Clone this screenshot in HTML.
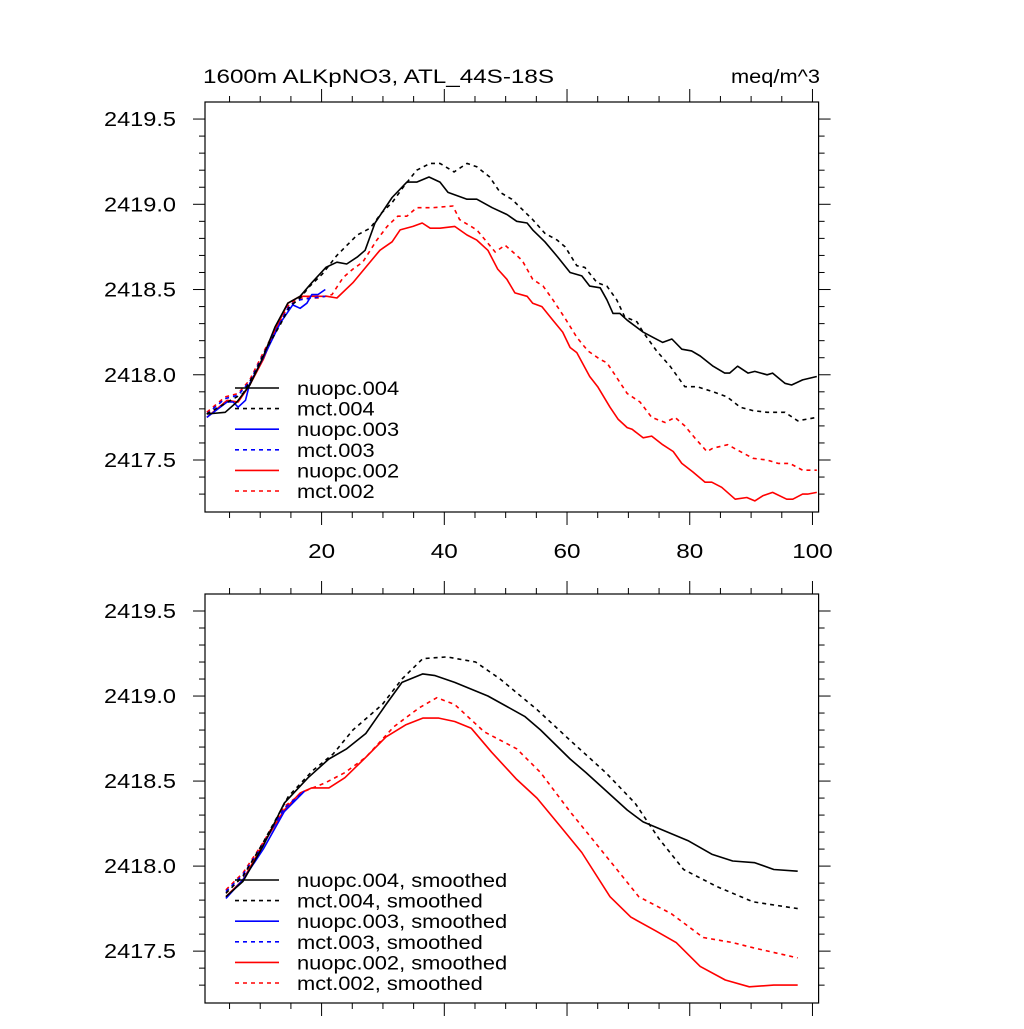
<!DOCTYPE html>
<html><head><meta charset="utf-8"><style>
body{margin:0;background:#fff}
svg text{font-family:"Liberation Sans",sans-serif;fill:#000}
</style></head><body>
<svg id="chart" width="1024" height="1024" viewBox="0 0 1024 1024" xmlns="http://www.w3.org/2000/svg">
<rect width="1024" height="1024" fill="#fff"/>
<text id="ttl" x="203" y="83" font-size="19" textLength="351" lengthAdjust="spacingAndGlyphs">1600m ALKpNO3, ATL_44S-18S</text>
<text x="731" y="83" font-size="19" textLength="89" lengthAdjust="spacingAndGlyphs">meq/m^3</text>
</svg>
<script>
// ---------- data ----------
const xTickValues=[20,40,60,80,100];
const yTickValues=[2417.5,2418.0,2418.5,2419.0,2419.5];
const yTickLabels=["2417.5","2418.0","2418.5","2419.0","2419.5"];
const topLegendLabels=["nuopc.004","mct.004","nuopc.003","mct.003","nuopc.002","mct.002"];
const botLegendLabels=["nuopc.004, smoothed","mct.004, smoothed","nuopc.003, smoothed","mct.003, smoothed","nuopc.002, smoothed","mct.002, smoothed"];

const n004x=[1.3,4.3,6.2,8.3,10.3,12.4,14.5,16.5,18.4,20.7,22.5,24.1,25.8,27.1,28.7,31.5,33.9,35.5,37.5,39.3,40.6,43.7,45.3,47.8,50.2,51.8,53.5,54.4,56.4,58.5,60.5,62.4,63.7,65.4,66.5,67.5,68.6,69.8,72.4,74.0,75.6,77.1,78.7,80.3,81.7,83.8,85.7,86.5,87.8,89.5,90.6,92.6,93.5,95.5,96.6,98.4,100.7];
const n004y=[2417.77,2417.78,2417.84,2417.94,2418.09,2418.28,2418.42,2418.46,2418.54,2418.63,2418.66,2418.65,2418.69,2418.73,2418.89,2419.04,2419.13,2419.13,2419.16,2419.13,2419.07,2419.03,2419.03,2418.98,2418.94,2418.90,2418.89,2418.85,2418.78,2418.69,2418.60,2418.58,2418.52,2418.51,2418.44,2418.36,2418.36,2418.32,2418.25,2418.22,2418.19,2418.21,2418.15,2418.14,2418.11,2418.05,2418.01,2418.01,2418.05,2418.01,2418.02,2418.00,2418.01,2417.95,2417.94,2417.97,2417.99];
const m004x=[1.3,4.7,7.2,9.1,11.1,13.2,14.8,16.5,18.1,20.1,22.5,25.8,27.9,29.8,31.5,33.3,35.5,37.7,39.3,41.6,43.7,45.3,47.4,49.1,51.0,54.4,56.4,58.4,59.7,61.6,62.9,64.9,66.5,68.1,69.4,71.4,72.4,74.6,76.8,79.2,81.2,83.8,86.1,88.2,90.3,92.6,95.5,97.6,100.7];
const m004y=[2417.77,2417.84,2417.89,2418.01,2418.16,2418.29,2418.40,2418.45,2418.52,2418.59,2418.70,2418.82,2418.86,2418.95,2419.01,2419.10,2419.20,2419.24,2419.24,2419.19,2419.24,2419.22,2419.16,2419.07,2419.03,2418.91,2418.83,2418.79,2418.75,2418.64,2418.63,2418.54,2418.52,2418.44,2418.34,2418.31,2418.25,2418.14,2418.05,2417.93,2417.93,2417.90,2417.87,2417.81,2417.79,2417.78,2417.78,2417.73,2417.75];
const n003x=[1.3,4.6,5.6,6.4,7.6,8.3,10.5,13.2,15.3,16.5,17.6,18.4,19.4,20.6];
const n003y=[2417.75,2417.84,2417.84,2417.81,2417.85,2417.95,2418.10,2418.30,2418.41,2418.39,2418.42,2418.47,2418.47,2418.50];
const m003x=[1.3,4.3,6.4,8.3,10.5,12.7,14.8,16.5,18.4,20.6];
const m003y=[2417.77,2417.86,2417.88,2417.96,2418.12,2418.27,2418.41,2418.44,2418.45,2418.46];
const n002x=[1.3,4.6,6.4,8.3,10.5,12.4,14.5,16.5,18.6,20.9,22.5,25.1,27.4,29.5,31.5,32.8,34.9,36.4,37.7,39.3,41.7,43.7,45.3,47.1,48.7,50.2,51.5,53.5,54.4,55.9,57.7,59.3,60.5,61.6,63.7,65.0,67.0,68.3,69.8,70.6,72.4,73.8,75.6,77.3,78.7,80.5,82.5,83.6,85.2,87.4,89.3,90.6,91.9,93.5,95.8,96.8,98.4,99.2,100.7];
const n002y=[2417.75,2417.85,2417.84,2417.94,2418.09,2418.26,2418.42,2418.46,2418.46,2418.46,2418.45,2418.54,2418.64,2418.73,2418.78,2418.85,2418.87,2418.89,2418.86,2418.86,2418.87,2418.82,2418.79,2418.73,2418.62,2418.56,2418.48,2418.46,2418.42,2418.40,2418.32,2418.25,2418.16,2418.13,2417.99,2417.93,2417.81,2417.74,2417.69,2417.68,2417.63,2417.64,2417.59,2417.55,2417.48,2417.43,2417.37,2417.37,2417.34,2417.27,2417.28,2417.26,2417.29,2417.31,2417.27,2417.27,2417.30,2417.30,2417.31];
const m002x=[1.3,4.3,6.4,8.3,10.5,12.7,14.8,16.5,19.4,21.7,23.5,25.1,26.7,29.0,30.7,32.4,33.9,35.5,38.1,41.4,42.5,45.3,48.3,49.9,51.8,52.7,54.4,56.1,57.7,59.7,61.6,63.4,65.4,66.5,67.8,69.8,71.9,73.8,76.0,77.6,79.2,80.8,82.8,83.8,86.2,87.7,90.3,92.6,94.4,96.3,98.4,100.7];
const m002y=[2417.78,2417.87,2417.89,2417.97,2418.13,2418.28,2418.42,2418.45,2418.45,2418.47,2418.57,2418.62,2418.66,2418.79,2418.87,2418.93,2418.93,2418.98,2418.98,2418.99,2418.91,2418.85,2418.72,2418.76,2418.70,2418.67,2418.56,2418.52,2418.44,2418.33,2418.22,2418.14,2418.09,2418.07,2418.00,2417.89,2417.84,2417.75,2417.72,2417.75,2417.70,2417.63,2417.55,2417.57,2417.59,2417.56,2417.51,2417.50,2417.48,2417.48,2417.44,2417.44];

const sn004x=[4.4,7.2,10.5,13.9,17.8,21.2,24.1,27.2,30.5,33.1,36.5,38.5,41.7,47.1,53.1,55.7,60.5,63.1,69.8,72.4,79.7,83.6,87.0,90.6,93.7,97.6];
const sn004y=[2417.82,2417.91,2418.12,2418.37,2418.52,2418.63,2418.69,2418.78,2418.95,2419.08,2419.13,2419.12,2419.08,2419.00,2418.88,2418.80,2418.63,2418.55,2418.33,2418.26,2418.15,2418.07,2418.03,2418.02,2417.98,2417.97];
const sm004x=[4.4,7.2,10.5,14.6,18.5,21.9,25.1,29.9,33.1,36.5,40.4,45.1,49.1,55.1,60.5,66.3,71.1,75.0,79.0,84.4,90.3,97.6];
const sm004y=[2417.84,2417.94,2418.14,2418.41,2418.56,2418.66,2418.80,2418.95,2419.10,2419.22,2419.23,2419.20,2419.10,2418.92,2418.74,2418.55,2418.37,2418.16,2417.98,2417.88,2417.79,2417.75];
const sn003x=[4.4,7.2,10.5,13.9,17.2];
const sn003y=[2417.81,2417.92,2418.10,2418.32,2418.44];
const sm003x=[4.4,7.2,10.5,13.9,17.2];
const sm003y=[2417.85,2417.95,2418.13,2418.34,2418.44];
const sn002x=[4.4,7.2,10.5,13.9,16.5,18.4,21.2,23.8,27.2,30.5,33.7,36.5,39.1,41.7,44.4,47.7,51.8,55.1,59.0,62.4,67.0,70.4,74.4,77.8,81.7,85.8,89.7,93.7,97.6];
const sn002y=[2417.82,2417.92,2418.13,2418.33,2418.43,2418.46,2418.46,2418.52,2418.64,2418.76,2418.83,2418.87,2418.87,2418.85,2418.81,2418.67,2418.51,2418.40,2418.23,2418.08,2417.82,2417.70,2417.62,2417.55,2417.41,2417.33,2417.29,2417.30,2417.30];
const sm002x=[4.4,7.2,10.5,13.9,17.2,20.6,23.8,27.2,31.8,35.9,38.8,41.7,46.5,51.8,55.7,60.5,65.0,71.7,77.0,82.2,87.0,90.3,97.6];
const sm002y=[2417.86,2417.96,2418.14,2418.35,2418.44,2418.49,2418.55,2418.64,2418.82,2418.93,2418.99,2418.95,2418.79,2418.69,2418.55,2418.32,2418.12,2417.82,2417.72,2417.58,2417.55,2417.52,2417.46];

// ---------- drawing ----------
const svg=document.getElementById('chart');
const NS='http://www.w3.org/2000/svg';
const X0=205,X1=818.6,XMIN=1,XMAX=101;
const YMIN=2417.195,YMAX=2419.6;
function mk(tag,attrs,parent){const e=document.createElementNS(NS,tag);for(const k in attrs)e.setAttribute(k,attrs[k]);(parent||svg).appendChild(e);return e;}
function widen(t,f){const w=t.getComputedTextLength();t.setAttribute('textLength',(w*f).toFixed(1));t.setAttribute('lengthAdjust','spacingAndGlyphs');}
function drawPlot(top,bottom,prefix,showX,legendLabels,legendY,series){
  const sx=v=>X0+(v-XMIN)/(XMAX-XMIN)*(X1-X0);
  const sy=v=>bottom-(v-YMIN)/(YMAX-YMIN)*(bottom-top);
  const g=mk('g',{});
  
  
  for(let v=5;v<=100;v+=5){
    const major=v%20===0, L=major?13:6, x=sx(v);
    const t1=mk('line',{x1:x,x2:x,y1:top,y2:top-L,stroke:'#000','stroke-width':1},g);
    
    
    const t2=mk('line',{x1:x,x2:x,y1:bottom,y2:bottom+L,stroke:'#000','stroke-width':1},g);
    
    
  }
  for(let i=0;i<=23;i++){
    const v=2417.3+i*0.1; if(v>YMAX) break;
    const major=Math.abs((v*2)-Math.round(v*2))<1e-6, L=major?12:6, y=sy(v);
    const t1=mk('line',{x1:X0,x2:X0-L,y1:y,y2:y,stroke:'#000','stroke-width':1},g);
    
    
    const t2=mk('line',{x1:X1,x2:X1+L,y1:y,y2:y,stroke:'#000','stroke-width':1},g);
    
    
  }
  yTickValues.forEach((v,i)=>{
    const t=mk('text',{x:104,y:sy(v)+7,'font-size':20,textLength:72,lengthAdjust:'spacingAndGlyphs'},g);
    
    
    t.textContent=yTickLabels[i];
  });
  if(showX){
    xTickValues.forEach(v=>{
      const t=mk('text',{x:sx(v),y:bottom+46,'font-size':20,'text-anchor':'middle'},g);
      
      
      t.textContent=String(v);
      t.setAttribute('textLength',String(v).length*13.5);
      t.setAttribute('lengthAdjust','spacingAndGlyphs');
    });
  }
  series.forEach((s,i)=>{
    const d=s.x.map((xv,j)=>(j?'L':'M')+sx(xv).toFixed(1)+','+sy(s.y[j]).toFixed(1)).join('');
    const p=mk('path',{d:d,fill:'none',stroke:s.c,'stroke-width':1.6,'stroke-dasharray':s.dash?'4,4':'none','stroke-linejoin':'round'},g);
    
    
  });
  const leg=[...series].reverse();
  leg.forEach((s,i)=>{
    const y=legendY+i*20.6;
    const l=mk('line',{x1:235,x2:279,y1:y,y2:y,stroke:s.c,'stroke-width':1.6,'stroke-dasharray':s.dash?'4,4':'none'},g);
    
    
    const t=mk('text',{x:297,y:y+7,'font-size':19},g);
    
    
    t.textContent=legendLabels[i];
    widen(t,1.15);
  });
  const fr=mk('rect',{x:X0,y:top,width:X1-X0,height:bottom-top,fill:'none',stroke:'#000','stroke-width':1.2},g);
  
  
}
drawPlot(102,512,'top',true,topLegendLabels,388,[
  {n:'mct-002',x:m002x,y:m002y,c:'#ff0000',dash:true},
  {n:'nuopc-002',x:n002x,y:n002y,c:'#ff0000',dash:false},
  {n:'mct-003',x:m003x,y:m003y,c:'#0000ff',dash:true},
  {n:'nuopc-003',x:n003x,y:n003y,c:'#0000ff',dash:false},
  {n:'mct-004',x:m004x,y:m004y,c:'#000000',dash:true},
  {n:'nuopc-004',x:n004x,y:n004y,c:'#000000',dash:false}
]);
drawPlot(594,1003,'bottom',false,botLegendLabels,880,[
  {n:'mct-002',x:sm002x,y:sm002y,c:'#ff0000',dash:true},
  {n:'nuopc-002',x:sn002x,y:sn002y,c:'#ff0000',dash:false},
  {n:'mct-003',x:sm003x,y:sm003y,c:'#0000ff',dash:true},
  {n:'nuopc-003',x:sn003x,y:sn003y,c:'#0000ff',dash:false},
  {n:'mct-004',x:sm004x,y:sm004y,c:'#000000',dash:true},
  {n:'nuopc-004',x:sn004x,y:sn004y,c:'#000000',dash:false}
]);
</script>
</body></html>
